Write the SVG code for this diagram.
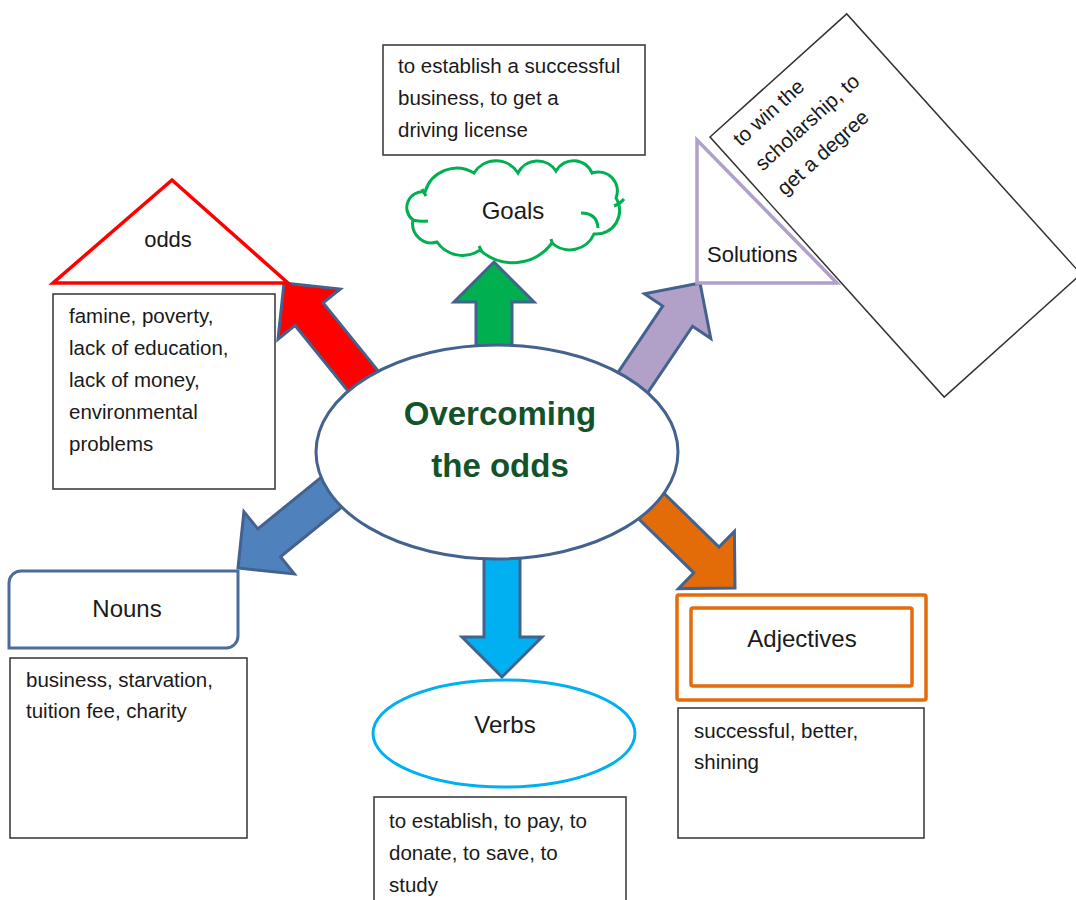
<svg xmlns="http://www.w3.org/2000/svg" width="1076" height="900" viewBox="0 0 1076 900">
<style>
text{font-family:"Liberation Sans",Arial,sans-serif;fill:#1a1a1a}
.body{font-size:20.5px}
.lbl{font-size:24px}
.box{fill:#fff;stroke:#333;stroke-width:1.5}
.arr{stroke:#43628e;stroke-width:3;stroke-linejoin:miter}
</style>
<defs>
<polygon id="arrow" points="0,0 40,40 18,40 18,128 -18,128 -18,40 -40,40"/>
</defs>
<rect width="1076" height="900" fill="#fff"/>
<g id="connectors">
<use href="#arrow" class="arr" fill="#ff0000" transform="translate(284,283) rotate(-38.9)"/>
<use href="#arrow" class="arr" fill="#00b050" transform="translate(494,262)"/>
<use href="#arrow" class="arr" fill="#b1a0c7" transform="translate(700,283) rotate(34)"/>
<use href="#arrow" class="arr" fill="#4f81bd" transform="translate(238,568) rotate(-129)"/>
<use href="#arrow" class="arr" fill="#00b0f0" transform="translate(502,677) rotate(180)"/>
<use href="#arrow" class="arr" fill="#e36c09" transform="translate(735,588) rotate(134.4)"/>
</g>
<g id="center">
<ellipse cx="497" cy="452" rx="181" ry="107" fill="#fff" stroke="#43628e" stroke-width="3"/>
<text x="500" y="425" text-anchor="middle" style="font-size:33px;font-weight:bold;fill:#14532a">Overcoming</text>
<text x="500" y="477" text-anchor="middle" style="font-size:33px;font-weight:bold;fill:#14532a">the odds</text>
</g>
<g id="goals-box">
<rect class="box" x="383" y="45" width="262" height="110"/>
<text class="body" x="398" y="73">to establish a successful</text>
<text class="body" x="398" y="105">business, to get a</text>
<text class="body" x="398" y="137">driving license</text>
</g>
<g id="goals">
<path d="M425,192 A33,33 0 0 1 474,173 A26,26 0 0 1 518,173 A22,22 0 0 1 556,171 A20,20 0 0 1 592,173 A19,19 0 0 1 616,198 A23.5,23.5 0 0 1 594,234 A26.5,26.5 0 0 1 552,243 A48.8,48.8 0 0 1 480,250 A31,31 0 0 1 437,242 A19,19 0 0 1 413,220 A15.7,15.7 0 0 1 425,192 Z" fill="#fff" stroke="#00b050" stroke-width="3"/>
<path d="M413,220 Q420,222 428,221 M581,213 Q597,213 598,228 M614,206 Q620,204 624,199 M479,246 L482,252 M551,239 L553,245 M422,189 L426,196" fill="none" stroke="#00b050" stroke-width="3"/>
<text class="lbl" x="513" y="219" text-anchor="middle">Goals</text>
</g>
<g id="odds">
<polygon points="172,180 53,283 288,283" fill="#fff" stroke="#ff0000" stroke-width="3.5"/>
<text class="lbl" x="168" y="247" text-anchor="middle" style="font-size:22px">odds</text>
</g>
<g id="odds-box">
<rect class="box" x="53" y="294" width="222" height="195"/>
<text class="body" x="69" y="323">famine, poverty,</text>
<text class="body" x="69" y="355">lack of education,</text>
<text class="body" x="69" y="387">lack of money,</text>
<text class="body" x="69" y="419">environmental</text>
<text class="body" x="69" y="451">problems</text>
</g>
<g id="solutions">
<polygon points="697,140 697,283 837,283" fill="#fff" stroke="#b1a0c7" stroke-width="3.5"/>
<text class="lbl" x="707" y="262" style="font-size:22px">Solutions</text>
</g>
<g id="solutions-box" transform="translate(710,137) rotate(-42)">
<rect x="0" y="0" width="184" height="350" fill="none" stroke="#333" stroke-width="1.5"/>
<text class="body" x="16" y="28">to win the</text>
<text class="body" x="16" y="61">scholarship, to</text>
<text class="body" x="16" y="94">get a degree</text>
</g>
<g id="nouns">
<path d="M21,571 H238 V636 A12,12 0 0 1 226,648 H9 V583 A12,12 0 0 1 21,571 Z" fill="#fff" stroke="#4a6c9a" stroke-width="3"/>
<text class="lbl" x="127" y="617" text-anchor="middle">Nouns</text>
</g>
<g id="nouns-box">
<rect class="box" x="10" y="658" width="237" height="180"/>
<text class="body" x="26" y="687">business, starvation,</text>
<text class="body" x="26" y="718">tuition fee, charity</text>
</g>
<g id="verbs">
<ellipse cx="504" cy="733.5" rx="131" ry="53.5" fill="#fff" stroke="#00b0f0" stroke-width="3"/>
<text class="lbl" x="505" y="733" text-anchor="middle">Verbs</text>
</g>
<g id="verbs-box">
<rect class="box" x="374" y="797" width="252" height="110"/>
<text class="body" x="389" y="828">to establish, to pay, to</text>
<text class="body" x="389" y="860">donate, to save, to</text>
<text class="body" x="389" y="892">study</text>
</g>
<g id="adjectives">
<rect x="677" y="595" width="249" height="105" rx="2" fill="#fff" stroke="#e46c0a" stroke-width="3.5"/>
<rect x="691" y="608" width="221" height="78" rx="2" fill="#fff" stroke="#e46c0a" stroke-width="3.5"/>
<text class="lbl" x="802" y="647" text-anchor="middle">Adjectives</text>
</g>
<g id="adjectives-box">
<rect class="box" x="678" y="708" width="246" height="130"/>
<text class="body" x="694" y="738">successful, better,</text>
<text class="body" x="694" y="769">shining</text>
</g>
</svg>
